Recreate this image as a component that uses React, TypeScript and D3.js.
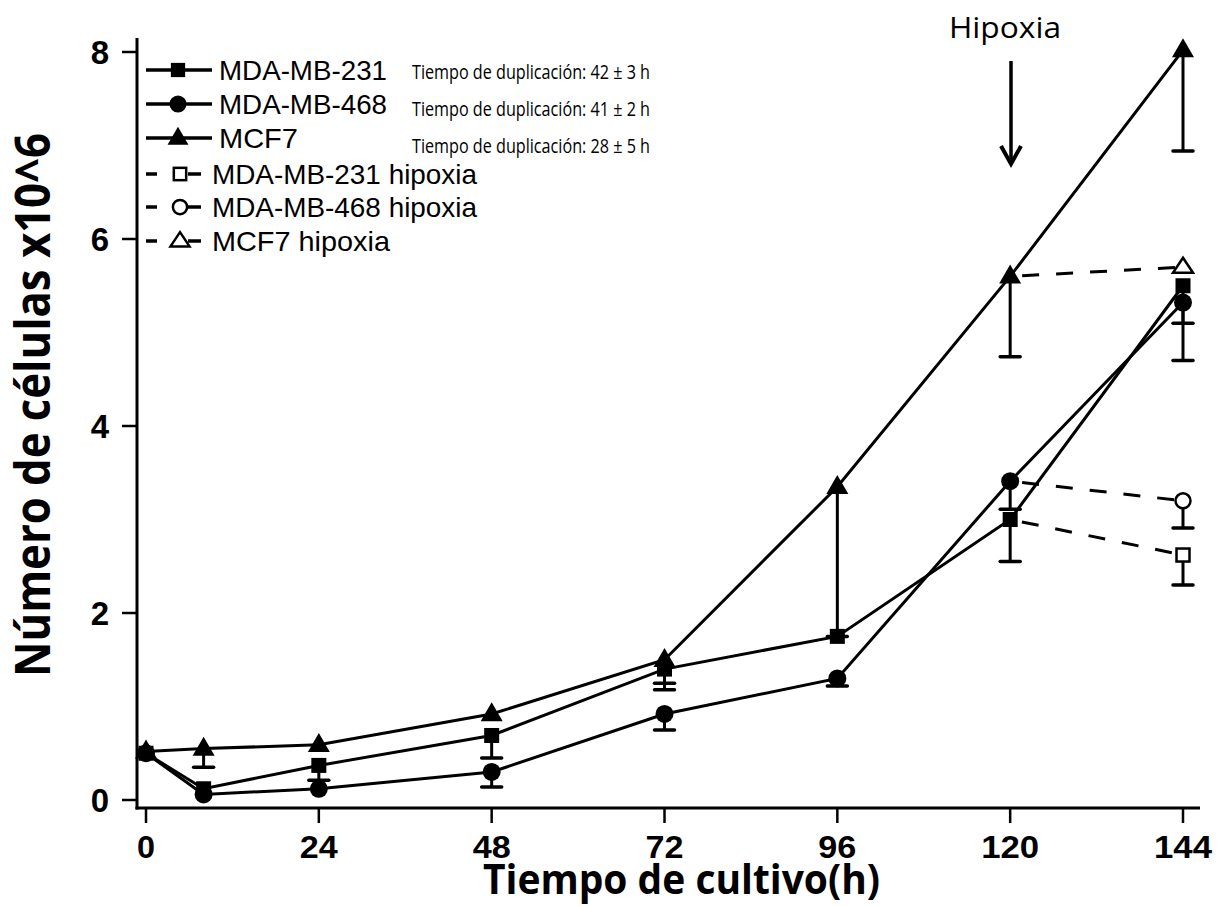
import React from "react";
import * as d3 from "d3";

const times = [0, 8, 24, 48, 72, 96, 120, 144];
const mda231 = [0.5, 0.12, 0.37, 0.69, 1.4, 1.75, 3.0, 5.5];
const mda231Err = [0, 0, 0.16, 0.24, 0.22, 0, 0.45, 0.4];
const mda468 = [0.5, 0.06, 0.12, 0.3, 0.92, 1.3, 3.41, 5.32];
const mda468Err = [0, 0, 0, 0.16, 0.17, 0.08, 0.3, 0.62];
const mcf7 = [0.52, 0.55, 0.59, 0.92, 1.5, 3.35, 5.6, 8.02];
const mcf7Err = [0, 0.2, 0, 0, 0.25, 1.6, 0.86, 1.08];

const hypTimes = [120, 144];
const mda231h = [3.0, 2.62];
const mda231hErr = [0, 0.32];
const mda468h = [3.41, 3.2];
const mda468hErr = [0, 0.29];
const mcf7h = [5.6, 5.7];
const mcf7hErr = [0, 0];

const xTicks = [0, 24, 48, 72, 96, 120, 144];
const yTicks = [0, 2, 4, 6, 8];

const legendLabels = [
  "MDA-MB-231",
  "MDA-MB-468",
  "MCF7",
  "MDA-MB-231 hipoxia",
  "MDA-MB-468 hipoxia",
  "MCF7 hipoxia",
];
const doublingLabels = [
  "Tiempo de duplicación: 42 ± 3 h",
  "Tiempo de duplicación: 41 ± 2 h",
  "Tiempo de duplicación: 28 ± 5 h",
];

type Shape = "square" | "circle" | "triangle";

function Marker({ shape, cx, cy, open, scale = 1 }: { shape: Shape; cx: number; cy: number; open?: boolean; scale?: number }) {
  const fill = open ? "white" : "black";
  const sw = open ? 2.5 : 0;
  if (shape === "square") {
    const s = (open ? 13 : 15) * scale;
    return <rect x={cx - s / 2} y={cy - s / 2} width={s} height={s} fill={fill} stroke="black" strokeWidth={sw} />;
  }
  if (shape === "circle") {
    return <circle cx={cx} cy={cy} r={(open ? 7.5 : 9) * scale} fill={fill} stroke="black" strokeWidth={sw} />;
  }
  const h = (open ? 15 : 19) * scale;
  const w = (open ? 20 : 22) * scale;
  return (
    <path
      d={`M${cx},${cy - h * 0.62} L${cx + w / 2},${cy + h * 0.38} L${cx - w / 2},${cy + h * 0.38} Z`}
      fill={fill}
      stroke="black"
      strokeWidth={sw}
      strokeLinejoin="miter"
    />
  );
}

export default function App() {
  const x = d3.scaleLinear().domain([0, 144]).range([146, 1183]);
  const y = d3.scaleLinear().domain([0, 8]).range([800, 52]);
  const line = d3
    .line<[number, number]>()
    .x((d) => x(d[0]))
    .y((d) => y(d[1]));

  const solid = [
    { vals: mda231, err: mda231Err, shape: "square" as Shape },
    { vals: mda468, err: mda468Err, shape: "circle" as Shape },
    { vals: mcf7, err: mcf7Err, shape: "triangle" as Shape },
  ];
  const hyp = [
    { vals: mda231h, err: mda231hErr, shape: "square" as Shape },
    { vals: mda468h, err: mda468hErr, shape: "circle" as Shape },
    { vals: mcf7h, err: mcf7hErr, shape: "triangle" as Shape },
  ];

  const errBar = (t: number, v: number, e: number, key: string) => {
    if (!e) return null;
    const px = x(t);
    return (
      <g key={key}>
        <line x1={px} x2={px} y1={y(v)} y2={y(v - e)} stroke="black" strokeWidth={3} />
        <line x1={px - 10} x2={px + 10} y1={y(v - e)} y2={y(v - e)} stroke="black" strokeWidth={3.5} strokeLinecap="round" />
      </g>
    );
  };

  const legendY = [70, 104, 138, 174, 207, 241];
  const legendShapes: Shape[] = ["square", "circle", "triangle", "square", "circle", "triangle"];
  const legendTextLen = [168, 168, 79, 265, 265, 178];

  return (
    <svg width={1227} height={907} style={{ display: "block", position: "absolute", left: 0, top: 0 }}>
      <rect width={1227} height={907} fill="white" />
      {/* axes */}
      <line x1={137} x2={137} y1={38} y2={809.5} stroke="black" strokeWidth={3} />
      <line x1={135.5} x2={1200} y1={808} y2={808} stroke="black" strokeWidth={3} />
      {yTicks.map((t) => (
        <g key={"yt" + t}>
          <line x1={122} x2={137} y1={y(t)} y2={y(t)} stroke="black" strokeWidth={2.5} />
          <text x={109} y={y(t) + 12} textAnchor="end" fontFamily="Liberation Sans, Arial, sans-serif" fontWeight="bold" fontSize={33} fill="black">
            {t}
          </text>
        </g>
      ))}
      {xTicks.map((t) => (
        <g key={"xt" + t}>
          <line x1={x(t)} x2={x(t)} y1={808} y2={823} stroke="black" strokeWidth={2.5} />
          <text
            x={x(t)}
            y={858}
            textAnchor="middle"
            fontFamily="Liberation Sans, Arial, sans-serif"
            fontWeight="bold"
            fontSize={32}
            fill="black"
            textLength={String(t).length * 20 - 2}
            lengthAdjust="spacingAndGlyphs"
          >
            {t}
          </text>
        </g>
      ))}
      <text
        x={483}
        y={894}
        fontFamily="Open Sans, Liberation Sans, sans-serif"
        fontWeight="bold"
        fontSize={42}
        fill="black"
        textLength={397}
        lengthAdjust="spacingAndGlyphs"
      >
        Tiempo de cultivo(h)
      </text>
      <text
        transform={`translate(50,405) rotate(-90)`}
        textAnchor="middle"
        fontFamily="Open Sans, Liberation Sans, sans-serif"
        fontWeight="bold"
        fontSize={48}
        fill="black"
        textLength={544}
        lengthAdjust="spacingAndGlyphs"
      >
        Número de células x10^6
      </text>

      {/* lines */}
      {solid.map((s, i) => (
        <path key={"l" + i} d={line(times.map((t, j) => [t, s.vals[j]] as [number, number])) || ""} fill="none" stroke="black" strokeWidth={3} />
      ))}
      {hyp.map((s, i) => (
        <path
          key={"h" + i}
          d={line(hypTimes.map((t, j) => [t, s.vals[j]] as [number, number])) || ""}
          fill="none"
          stroke="black"
          strokeWidth={3}
          strokeDasharray="17 17"
          strokeDashoffset={-12}
        />
      ))}
      {/* error bars */}
      {solid.map((s, i) => times.map((t, j) => errBar(t, s.vals[j], s.err[j], `e${i}-${j}`)))}
      {hyp.map((s, i) => hypTimes.map((t, j) => errBar(t, s.vals[j], s.err[j], `he${i}-${j}`)))}
      {/* markers */}
      {solid.map((s, i) => times.map((t, j) => <Marker key={`m${i}-${j}`} shape={s.shape} cx={x(t)} cy={y(s.vals[j])} />))}
      {hyp.map((s, i) => (
        <Marker key={`hm${i}`} shape={s.shape} cx={x(hypTimes[1])} cy={y(s.vals[1])} open />
      ))}

      {/* legend */}
      {legendLabels.map((lab, i) => {
        const ly = legendY[i];
        const dashed = i >= 3;
        return (
          <g key={"lg" + i}>
            {dashed ? (
              <>
                <line x1={146} x2={157} y1={ly} y2={ly} stroke="black" strokeWidth={3.5} />
                <line x1={188} x2={201} y1={ly} y2={ly} stroke="black" strokeWidth={3.5} />
                <Marker shape={legendShapes[i]} cx={180} cy={ly} open scale={0.95} />
              </>
            ) : (
              <>
                <line x1={146} x2={212} y1={ly} y2={ly} stroke="black" strokeWidth={3.5} />
                <Marker shape={legendShapes[i]} cx={178} cy={ly} scale={0.95} />
              </>
            )}
            <text
              x={dashed ? 212 : 219}
              y={ly + 10}
              fontFamily="Liberation Sans, Arial, sans-serif"
              fontSize={28}
              fill="black"
              textLength={legendTextLen[i]}
              lengthAdjust="spacingAndGlyphs"
            >
              {lab}
            </text>
          </g>
        );
      })}
      {doublingLabels.map((lab, i) => (
        <text
          key={"dl" + i}
          x={412}
          y={79 + i * 37}
          fontFamily="Open Sans, Liberation Sans, sans-serif"
          fontSize={19.5}
          fill="black"
          textLength={238}
          lengthAdjust="spacingAndGlyphs"
        >
          {lab}
        </text>
      ))}

      {/* Hipoxia annotation */}
      <text
        x={1005}
        y={38}
        textAnchor="middle"
        fontFamily="Open Sans, Liberation Sans, sans-serif"
        fontSize={29}
        fill="black"
        textLength={112}
        lengthAdjust="spacingAndGlyphs"
      >
        Hipoxia
      </text>
      <line x1={1011} x2={1011} y1={61} y2={160} stroke="black" strokeWidth={3.5} />
      <path d="M1001,146 L1011,164 L1021,146" fill="none" stroke="black" strokeWidth={4} />
    </svg>
  );
}
